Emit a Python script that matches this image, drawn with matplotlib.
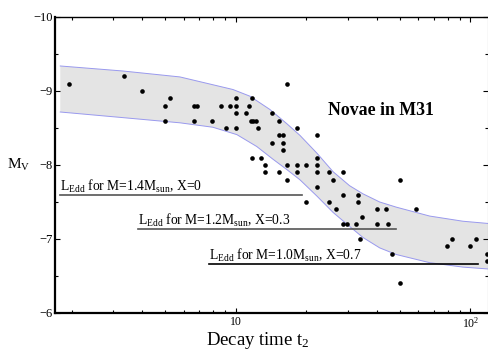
import matplotlib
matplotlib.use("Agg")
import matplotlib.pyplot as plt
from matplotlib.ticker import FixedLocator, FixedFormatter, MultipleLocator, LogLocator, NullFormatter

plt.rcParams['font.family'] = ['Liberation Serif', 'DejaVu Serif']
plt.rcParams['mathtext.fontset'] = 'custom'
plt.rcParams['mathtext.rm'] = 'Liberation Serif'
plt.rcParams['mathtext.it'] = 'Liberation Serif:italic'
plt.rcParams['mathtext.bf'] = 'Liberation Serif:bold'

# novae: decay time t2 (days) and absolute magnitude M_V
decay_t = [1.95, 3.33, 3.98, 5.25, 4.98, 4.98, 6.65, 6.88, 6.65, 7.97,
           8.66, 9.07, 9.48, 10.0, 10.0, 10.0, 10.0, 11.06, 11.43, 11.77,
           11.6, 11.9, 12.2, 12.48, 14.27, 15.33, 16.62, 18.18, 15.33, 15.95,
           14.27, 15.95, 15.95, 11.77, 12.81, 13.33, 16.62, 18.18, 19.97, 22.24,
           22.24, 22.24, 13.33, 15.33, 18.18, 22.24, 24.95, 28.61, 16.62, 25.94,
           50.0, 22.24, 19.97, 24.95, 28.61, 33.32, 33.32, 26.72, 34.54, 39.93,
           43.6, 58.7, 28.61, 29.85, 32.73, 39.93, 44.5, 33.96, 46.47, 50.0,
           79.8, 83.4, 100.0, 105.3, 117.3, 117.3]
mag_v = [-9.1, -9.2, -9.0, -8.9, -8.8, -8.6, -8.8, -8.8, -8.6, -8.6,
         -8.8, -8.5, -8.8, -8.9, -8.8, -8.7, -8.5, -8.7, -8.8, -8.9,
         -8.6, -8.6, -8.6, -8.5, -8.7, -8.6, -9.1, -8.5, -8.4, -8.4,
         -8.3, -8.3, -8.2, -8.1, -8.1, -8.0, -8.0, -8.0, -8.0, -8.0,
         -8.1, -8.4, -7.9, -7.9, -7.9, -7.9, -7.9, -7.9, -7.8, -7.8,
         -7.8, -7.7, -7.5, -7.5, -7.6, -7.6, -7.5, -7.4, -7.3, -7.4,
         -7.4, -7.4, -7.2, -7.2, -7.2, -7.2, -7.2, -7.0, -6.8, -6.4,
         -6.9, -7.0, -6.9, -7.0, -6.8, -6.7]

# MMRD band edges
band_up_t = [1.79, 3.31, 5.79, 9.74, 11.5, 14.0, 16.5, 18.8, 22.2, 26.0,
             30.6, 34.9, 41.1, 48.4, 67.1, 93.0, 118.9]
band_up_m = [-9.338, -9.27, -9.19, -9.02, -8.93, -8.75, -8.56, -8.40, -8.16, -7.91,
             -7.72, -7.61, -7.50, -7.43, -7.31, -7.24, -7.21]
band_lo_t = [1.79, 3.31, 5.79, 8.0, 10.13, 12.3, 14.4, 16.5, 18.8, 22.2,
             26.0, 30.6, 34.9, 41.1, 48.4, 67.1, 93.0, 118.9]
band_lo_m = [-8.716, -8.64, -8.57, -8.51, -8.41, -8.25, -8.08, -7.94, -7.80, -7.58,
             -7.36, -7.17, -7.02, -6.88, -6.79, -6.68, -6.62, -6.595]

# Eddington limits: level, t range, label
edd_levels = [-7.595, -7.131, -6.658]
edd_t_start = [1.79, 3.85, 7.72]
edd_t_end = [19.1, 48.1, 108.0]
edd_labels = [r'L$_{\rm Edd}$ for M=1.4M$_{\rm sun}$, X=0',
              r'L$_{\rm Edd}$ for M=1.2M$_{\rm sun}$, X=0.3',
              r'L$_{\rm Edd}$ for M=1.0M$_{\rm sun}$, X=0.7']
edd_colors = ['#555555', '#555555', 'black']

fig = plt.figure(figsize=(4.89, 3.51), dpi=100)
ax = fig.add_axes([0.1125, 0.1083, 0.8855, 0.8433])

# band: upper edge forward, lower edge backward
poly_t = band_up_t + band_lo_t[::-1]
poly_m = band_up_m + band_lo_m[::-1]
ax.fill(poly_t, poly_m, color='#e4e4e4', lw=0)
ax.plot(band_up_t, band_up_m, color='#9999ee', lw=0.7)
ax.plot(band_lo_t, band_lo_m, color='#9999ee', lw=0.7)

for lev, t0, t1, lab, c in zip(edd_levels, edd_t_start, edd_t_end, edd_labels, edd_colors):
    ax.plot([t0, t1], [lev, lev], color=c, lw=1.2)
    ax.text(t0, lev - 0.058, lab, fontsize=9.8, va='baseline', ha='left')

ax.scatter(decay_t, mag_v, s=11, color='black', zorder=5, linewidths=0)

ax.text(24.7, -8.676, 'Novae in M31', fontsize=12.8, fontweight='bold',
        va='baseline', ha='left')

ax.set_xscale('log')
ax.set_xlim(1.70, 119)
ax.set_ylim(-10, -6)
ax.invert_yaxis()

ax.xaxis.set_major_locator(FixedLocator([10, 100]))
ax.xaxis.set_major_formatter(FixedFormatter(['10', r'10$^2$']))
ax.xaxis.set_minor_locator(LogLocator(base=10, subs=range(2, 10)))
ax.xaxis.set_minor_formatter(NullFormatter())
ax.yaxis.set_major_locator(MultipleLocator(1))
ax.yaxis.set_minor_locator(MultipleLocator(0.5))
ax.set_yticks([-10, -9, -8, -7, -6])
ax.set_yticklabels(['\u221210', '\u22129', '\u22128', '\u22127', '\u22126'])

ax.tick_params(which='both', direction='in', top=True, right=True, labelsize=9)
ax.tick_params(which='major', length=3.5, width=0.8)
ax.tick_params(which='minor', length=2.5, width=0.8)
ax.tick_params(axis='y', pad=1.5)
ax.tick_params(axis='x', pad=2, labelsize=8.5)

ax.spines['left'].set_linewidth(1.6)
ax.spines['bottom'].set_linewidth(1.6)
ax.spines['top'].set_linewidth(1.0)
ax.spines['right'].set_linewidth(0.8)
ax.spines['right'].set_color('#888888')

ax.set_ylabel(r'M$_{\rm V}$', rotation=0, fontsize=11, ha='center', va='center')
ax.yaxis.set_label_coords(-0.085, 0.5)

fig.text(0.528, 0.016, r'Decay time t$_2$', fontsize=13.5, ha='center', va='baseline')

fig.savefig('out.png', dpi=100)
